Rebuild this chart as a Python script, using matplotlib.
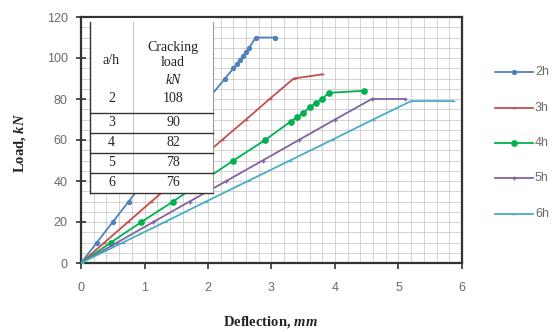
import matplotlib
matplotlib.use("Agg")
import matplotlib.pyplot as plt
from matplotlib.patches import Rectangle
from matplotlib.lines import Line2D
import numpy as np

plt.rcParams["mathtext.fontset"] = "custom"
plt.rcParams["mathtext.it"] = "Liberation Serif:italic:bold"
plt.rcParams["mathtext.rm"] = "Liberation Serif"

# ---- data ----
x_2h = [0, 0.25, 0.5, 0.75, 1.0, 1.25, 1.5, 1.75, 2.0, 2.27, 2.4, 2.45, 2.5, 2.55, 2.6, 2.65, 2.75, 3.05]
y_2h = [0, 10, 20, 30, 40, 50, 60, 70, 80, 90, 95, 97, 99, 101, 103, 105, 110, 110]

x_3h = [0, 0.37, 0.74, 1.11, 1.48, 1.85, 2.22, 2.6, 2.97, 3.35, 3.8]
y_3h = [0, 10, 20, 30, 40, 50, 60, 70, 80, 90, 92]

x_4h = [0, 0.47, 0.95, 1.45, 1.92, 2.4, 2.9, 3.3, 3.4, 3.5, 3.6, 3.7, 3.8, 3.9, 4.45]
y_4h = [0, 10, 20, 30, 40, 50, 60, 69, 71, 73, 76, 78, 80, 83, 84]

x_5h = [0, 0.57, 1.14, 1.71, 2.29, 2.86, 3.43, 4.0, 4.58, 5.1]
y_5h = [0, 10, 20, 30, 40, 50, 60, 70, 80, 80]

x_6h = [0, 0.66, 1.32, 1.97, 2.63, 3.29, 3.95, 4.6, 5.2, 5.86]
y_6h = [0, 10, 20, 30, 40, 50, 60, 70, 79, 79]

series_names = ["2h", "3h", "4h", "5h", "6h"]
series_x = [x_2h, x_3h, x_4h, x_5h, x_6h]
series_y = [y_2h, y_3h, y_4h, y_5h, y_6h]
colors = ["#4F81BD", "#C0504D", "#00B050", "#8064A2", "#4BACC6"]
markers = ["o", "_", "o", "+", "_"]
msizes = [2.8, 3, 3.8, 3.5, 3]

table_ah = ["2", "3", "4", "5", "6"]
table_load = ["108", "90", "82", "78", "76"]

x_ticks = [0, 1, 2, 3, 4, 5, 6]
y_ticks = [0, 20, 40, 60, 80, 100, 120]

# ---- figure ----
W, H = 555, 332
fig = plt.figure(figsize=(W / 100, H / 100), dpi=100)
ax = fig.add_axes([81 / W, 1 - 263 / H, (462 - 81) / W, (263 - 17) / H])

ax.set_xlim(0, 6)
ax.set_ylim(0, 120)
ax.set_xticks(x_ticks)
ax.set_yticks(y_ticks)
ax.set_xticks(np.arange(0, 6.01, 0.2), minor=True)
ax.set_yticks(np.arange(0, 120.1, 5), minor=True)
ax.grid(which="both", color="#c8c8c8", linewidth=0.55)
ax.set_axisbelow(True)
ax.tick_params(which="minor", length=0)
ax.tick_params(axis="x", which="major", direction="out", length=4, width=1.2,
               color="#333333", labelsize=9, labelcolor="#6a6a6a", pad=10)
ax.tick_params(axis="y", which="major", direction="inout", length=7, width=1.2,
               color="#333333", labelsize=9, labelcolor="#6a6a6a", pad=6)
for t in ax.get_xticklabels() + ax.get_yticklabels():
    t.set_family("Liberation Sans")
for s in ax.spines.values():
    s.set_linewidth(1.6)
    s.set_color("#333333")

handles = []
for name, xs, ys, c, m, ms in zip(series_names, series_x, series_y, colors, markers, msizes):
    ax.plot(xs, ys, color=c, lw=1.3, marker=m, ms=ms, mew=1.0, zorder=3)
    handles.append(Line2D([], [], color=c, lw=1.3, marker=m, ms=ms, mew=1.0))

# ---- inset table ----
def px2x(px):
    return (px - 81) / (462 - 81) * 6

def py2y(py):
    return (263 - py) / (263 - 17) * 120

tx0, tx1, txm = px2x(90), px2x(213), px2x(133)
ty_bot, ty_top = py2y(193), py2y(18)
ax.add_patch(Rectangle((tx0, ty_bot), tx1 - tx0, ty_top - ty_bot, facecolor="white",
                       edgecolor="none", zorder=5))
ax.plot([tx0, tx0], [ty_bot, py2y(22)], color="#333333", lw=1.0, zorder=6)
ax.plot([tx1, tx1], [ty_bot, py2y(22)], color="#9a9a9a", lw=0.8, zorder=6)
ax.plot([txm, txm], [ty_bot, py2y(22)], color="#c8c8c8", lw=0.8, zorder=6)
for py in [113, 133, 153, 173, 193]:
    ax.plot([tx0, tx1], [py2y(py), py2y(py)], color="#333333", lw=1.0, zorder=6)

cx1, cx2 = (tx0 + txm) / 2, (txm + tx1) / 2
tf = dict(family="Liberation Serif", fontsize=10, color="#222222", ha="center", va="center", zorder=7)
ax.text(cx1, py2y(60), "a/h", **tf)
ax.text(cx2, py2y(47), "Cracking", **tf)
ax.text(cx2, py2y(63), "load", **tf)
ax.text(cx2, py2y(80), "kN", style="italic", **tf)
row_py = [98, 123, 143, 163, 183]
for a, l, py in zip(table_ah, table_load, row_py):
    ax.text(cx1, py2y(py), a, **tf)
    ax.text(cx2, py2y(py), l, **tf)

# ---- axis labels ----
fig.text(270 / W, 1 - 322 / H, r"Deflection, $\mathit{mm}$", ha="center", va="center",
         family="Liberation Serif", fontsize=10.5, fontweight="bold", color="#222222")
fig.text(20 / W, 1 - 143 / H, r"Load, $\mathit{kN}$", ha="center", va="center", rotation=90,
         family="Liberation Serif", fontsize=10.5, fontweight="bold", color="#222222")

# ---- legend ----
leg_y = [72, 108, 143, 178, 214]
for h, name, py in zip(handles, series_names, leg_y):
    yf = 1 - py / H
    fig.add_artist(Line2D([495 / W, 533 / W], [yf, yf], color=h.get_color(), lw=1.3))
    fig.add_artist(Line2D([514 / W], [yf], color=h.get_color(), marker=h.get_marker(),
                          ms=h.get_markersize(), mew=1.0, lw=0))
    fig.text(535 / W, yf, name, ha="left", va="center", fontsize=9,
             family="Liberation Sans", color="#6a6a6a")

fig.savefig("out.png", dpi=100)
